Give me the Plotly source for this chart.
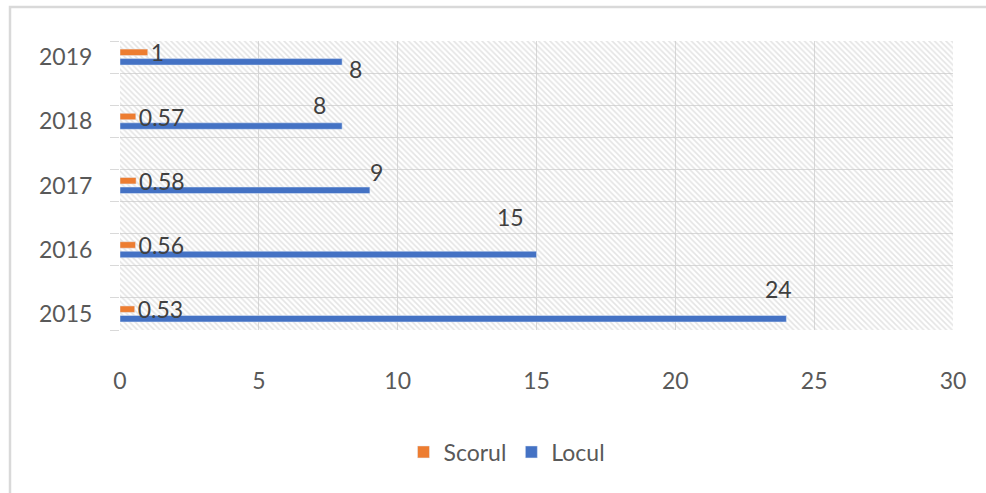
import plotly.graph_objects as go

# ---- data ----
years = ["2015", "2016", "2017", "2018", "2019"]
scorul = [0.53, 0.56, 0.58, 0.57, 1]
locul = [24, 15, 9, 8, 8]
scorul_labels = ["0.53", "0.56", "0.58", "0.57", "1"]
locul_labels = ["24", "15", "9", "8", "8"]
x_ticks = [0, 5, 10, 15, 20, 25, 30]

# ---- style ----
W, H = 986, 493
ML, MR, MT, MB = 120, 33, 41, 163
ORANGE = "#ED7D31"
BLUE = "#4472C4"
GRID = "#d9d9d9"
TXT = "#404040"
TICK = "#595959"
FONT = "Lato"
FS = 23
# pixel nudges of the Locul labels (as placed in the original chart)
lab_dx = [-8, -26, 7, -23, 13]
lab_dy = [25, 33, 14, 16, -12]

pos = [2 * i for i in range(len(years))]
y_rng = [-0.5, 2 * (len(years) - 1) + 0.5]
x_rng = [x_ticks[0], x_ticks[-1]]

fig = go.Figure()

# hatched plot-area background
fig.add_trace(go.Scatter(
    x=[x_rng[0], x_rng[1], x_rng[1], x_rng[0], x_rng[0]],
    y=[y_rng[0], y_rng[0], y_rng[1], y_rng[1], y_rng[0]],
    mode="lines", line=dict(width=0), fill="toself",
    fillcolor="rgba(0,0,0,0)",
    fillpattern=dict(shape="\\", fgcolor="#c9c9c9", bgcolor="rgba(0,0,0,0)",
                     size=4, solidity=0.4),
    hoverinfo="skip", showlegend=False, yaxis="y",
))

fig.add_trace(go.Bar(
    name="Locul", y=pos, x=locul, orientation="h", marker_color=BLUE,
    yaxis="y2",
))
fig.add_trace(go.Bar(
    name="Scorul", y=pos, x=scorul, orientation="h", marker_color=ORANGE,
    text=scorul_labels, textposition="outside", constraintext="none",
    cliponaxis=False, textfont=dict(family=FONT, size=FS, color=TXT),
    yaxis="y2",
))

for i in range(len(years)):
    fig.add_annotation(
        x=locul[i], y=pos[i], xref="x", yref="y", text=locul_labels[i],
        showarrow=False, xanchor="center", yanchor="middle",
        xshift=lab_dx[i], yshift=lab_dy[i],
        font=dict(family=FONT, size=FS, color=TXT),
    )

pw = W - ML - MR
ph = H - MT - MB
def px_x(p):
    return (p - ML) / pw
def px_y(p):
    return (H - MB - p) / ph

# outer chart border (top & left visible, continues past the right/bottom edge)
fig.add_shape(type="rect", xref="paper", yref="paper",
              x0=px_x(10), x1=px_x(W + 20), y0=px_y(7), y1=px_y(H + 20),
              line=dict(color=GRID, width=2.5), fillcolor="rgba(0,0,0,0)")

fig.update_layout(
    width=W, height=H,
    margin=dict(l=ML, r=MR, t=MT, b=MB, pad=0),
    paper_bgcolor="white", plot_bgcolor="white",
    barmode="group", bargap=0.703, bargroupgap=0.32,
    font=dict(family=FONT, size=FS, color=TICK),
    xaxis=dict(range=x_rng, tickvals=x_ticks, showgrid=True, gridcolor=GRID,
               gridwidth=1, zeroline=False, showline=False,
               ticks="outside", ticklen=30, tickcolor="rgba(0,0,0,0)",
               tickfont=dict(family=FONT, size=FS, color=TICK)),
    yaxis=dict(range=y_rng, tickvals=pos, ticktext=years, showgrid=False,
               zeroline=False, showline=False,
               ticks="outside", ticklen=22, tickcolor="rgba(0,0,0,0)",
               tickfont=dict(family=FONT, size=FS, color=TICK),
               minor=dict(tick0=-0.5, dtick=1, showgrid=True, gridcolor=GRID,
                          gridwidth=1, ticks="outside", ticklen=9,
                          tickcolor=GRID)),
    yaxis2=dict(range=y_rng, overlaying="y", visible=False),
    legend=dict(orientation="h", traceorder="reversed",
                x=px_x(507), xanchor="center", y=px_y(452), yanchor="middle",
                font=dict(family=FONT, size=FS, color=TICK),
                bgcolor="rgba(0,0,0,0)"),
    showlegend=True,
)

fig.write_html("out.html")
